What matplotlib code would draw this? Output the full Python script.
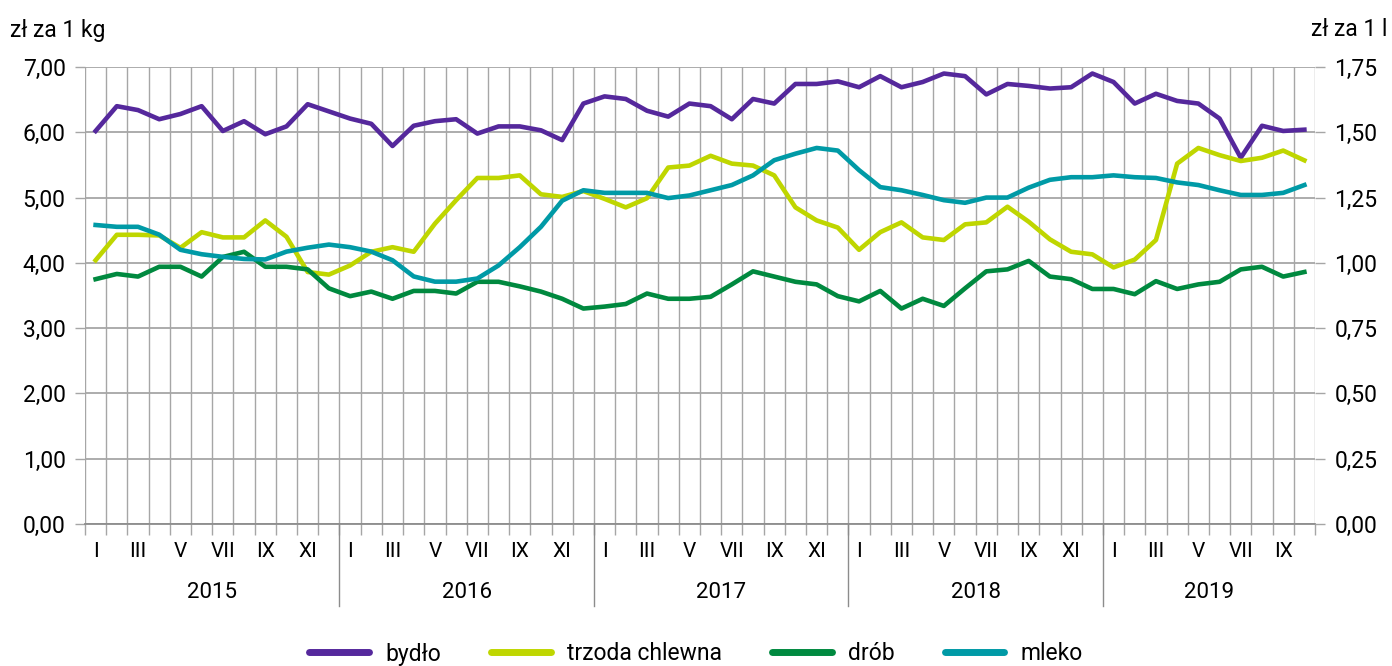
import matplotlib.pyplot as plt
import numpy as np
from matplotlib.ticker import FuncFormatter, FixedLocator
import matplotlib.transforms as mtransforms

plt.rcParams['font.family'] = ['Roboto', 'DejaVu Sans']
plt.rcParams['font.size'] = 14

years = ['2015', '2016', '2017', '2018', '2019']
month_names = ['I', 'II', 'III', 'IV', 'V', 'VI', 'VII', 'VIII', 'IX', 'X', 'XI', 'XII']
n_months = 58  # I 2015 - X 2019

# zł za 1 kg
bydlo = [6.02, 6.40, 6.34, 6.20, 6.28, 6.40, 6.02, 6.17, 5.97, 6.09, 6.43, 6.32,
         6.21, 6.13, 5.79, 6.10, 6.17, 6.20, 5.98, 6.09, 6.09, 6.03, 5.88, 6.44,
         6.55, 6.51, 6.33, 6.24, 6.44, 6.40, 6.20, 6.51, 6.44, 6.74, 6.74, 6.78,
         6.69, 6.86, 6.69, 6.77, 6.90, 6.86, 6.58, 6.74, 6.71, 6.67, 6.69, 6.90,
         6.77, 6.44, 6.59, 6.48, 6.44, 6.21, 5.61, 6.10, 6.02, 6.04]
trzoda = [4.04, 4.43, 4.43, 4.42, 4.23, 4.47, 4.39, 4.39, 4.65, 4.40, 3.86, 3.82,
          3.96, 4.17, 4.24, 4.17, 4.60, 4.96, 5.30, 5.30, 5.34, 5.05, 5.01, 5.10,
          4.98, 4.85, 4.99, 5.46, 5.49, 5.64, 5.52, 5.49, 5.34, 4.85, 4.65, 4.54,
          4.20, 4.47, 4.62, 4.39, 4.35, 4.59, 4.62, 4.86, 4.63, 4.36, 4.17, 4.13,
          3.93, 4.05, 4.35, 5.52, 5.76, 5.65, 5.56, 5.61, 5.72, 5.57]
drob = [3.75, 3.83, 3.79, 3.94, 3.94, 3.79, 4.09, 4.17, 3.94, 3.94, 3.90, 3.61,
        3.49, 3.56, 3.45, 3.57, 3.57, 3.53, 3.71, 3.71, 3.64, 3.56, 3.45, 3.30,
        3.33, 3.37, 3.53, 3.45, 3.45, 3.48, 3.67, 3.87, 3.79, 3.71, 3.67, 3.49,
        3.41, 3.57, 3.30, 3.45, 3.34, 3.61, 3.87, 3.90, 4.03, 3.79, 3.75, 3.60,
        3.60, 3.52, 3.72, 3.60, 3.67, 3.71, 3.90, 3.94, 3.79, 3.86]
# zł za 1 l
mleko = [1.145, 1.138, 1.138, 1.108, 1.050, 1.033, 1.023, 1.015, 1.013, 1.043, 1.058, 1.070,
         1.060, 1.043, 1.010, 0.948, 0.928, 0.928, 0.940, 0.990, 1.060, 1.138, 1.238, 1.278,
         1.268, 1.268, 1.268, 1.248, 1.258, 1.278, 1.298, 1.335, 1.393, 1.418, 1.440, 1.430,
         1.355, 1.290, 1.278, 1.260, 1.240, 1.230, 1.250, 1.250, 1.288, 1.318, 1.328, 1.328,
         1.335, 1.328, 1.325, 1.308, 1.298, 1.278, 1.260, 1.260, 1.268, 1.298]

c_bydlo = '#55289c'
c_trzoda = '#bfd600'
c_drob = '#00893f'
c_mleko = '#009aa6'
grid_c = '#a6a6a6'

def comma(v, pos):
    return f'{v:.2f}'.replace('.', ',')

fig = plt.figure(figsize=(13.92, 6.66), dpi=100)
ax = fig.add_axes([85/1392, 1 - 524/666, (1315 - 85)/1392, (524 - 67)/666])
ax2 = ax.twinx()

x = np.arange(n_months)
lw = 3.3
l1, = ax.plot(x, bydlo, color=c_bydlo, lw=lw, solid_joinstyle='round', label='bydło')
l2, = ax.plot(x, trzoda, color=c_trzoda, lw=lw, solid_joinstyle='round', label='trzoda chlewna')
l3, = ax.plot(x, drob, color=c_drob, lw=lw, solid_joinstyle='round', label='drób')
l4, = ax2.plot(x, mleko, color=c_mleko, lw=lw, solid_joinstyle='round', label='mleko')

ax.set_xlim(-0.5, n_months - 0.5)
ax.set_ylim(0, 7)
ax2.set_ylim(0, 1.75)
ax.set_yticks(np.arange(0, 7.01, 1))
ax2.set_yticks(np.arange(0, 1.751, 0.25))
ax.yaxis.set_major_formatter(FuncFormatter(comma))
ax2.yaxis.set_major_formatter(FuncFormatter(comma))

# gridlines
ax.set_axisbelow(True)
for b in np.arange(-0.5, n_months, 1.0):
    ax.axvline(b, color=grid_c, lw=1, zorder=0)
for v in np.arange(0, 7.01, 1):
    ax.axhline(v, color=grid_c, lw=1.3, zorder=0)

for a in (ax, ax2):
    for s in a.spines.values():
        s.set_visible(False)
ax.spines['bottom'].set_visible(True)
ax.spines['bottom'].set_color('#8c8c8c')
ax.spines['bottom'].set_linewidth(1.3)

ax.tick_params(axis='y', length=7, color=grid_c, width=1, pad=7, labelsize=16.5)
ax2.tick_params(axis='y', length=7, color=grid_c, width=1, pad=7, labelsize=16.5)

# month labels on odd months, ticks at month boundaries
ax.xaxis.set_major_locator(FixedLocator([i for i in range(n_months) if i % 2 == 0]))
ax.set_xticklabels([month_names[i % 12] for i in range(n_months) if i % 2 == 0])
ax.xaxis.set_minor_locator(FixedLocator(np.arange(-0.5, n_months, 1.0)))
ax.tick_params(axis='x', which='major', length=0, pad=13, labelsize=15)
ax.tick_params(axis='x', which='minor', length=8, color=grid_c, width=1)

# years and separators
trans = mtransforms.blended_transform_factory(ax.transData, ax.transAxes)
for k, yr in enumerate(years):
    start = 12 * k
    end = min(12 * (k + 1), n_months)
    ax.text((start + end - 1) / 2, -0.15, yr, transform=trans, ha='center', va='center', fontsize=16)
    if k > 0:
        ax.plot([start - 0.5, start - 0.5], [0, -0.18], transform=trans, color='#8c8c8c',
                lw=1, clip_on=False)

fig.text(10/1392, 1 - 30/666, 'zł za 1 kg', ha='left', va='center', fontsize=16.5)
fig.text(1311/1392, 1 - 30/666, 'zł za 1 l', ha='left', va='center', fontsize=16.5)

leg = fig.legend(handles=[l1, l2, l3, l4], loc='center', bbox_to_anchor=(0.5, 1 - 654/666),
                 ncol=4, frameon=False, fontsize=16.5, handlelength=2.6, columnspacing=2.2,
                 handletextpad=0.7)
for ln in leg.get_lines():
    ln.set_linewidth(5)
    ln.set_solid_capstyle('round')

plt.savefig('out.png', dpi=100)
